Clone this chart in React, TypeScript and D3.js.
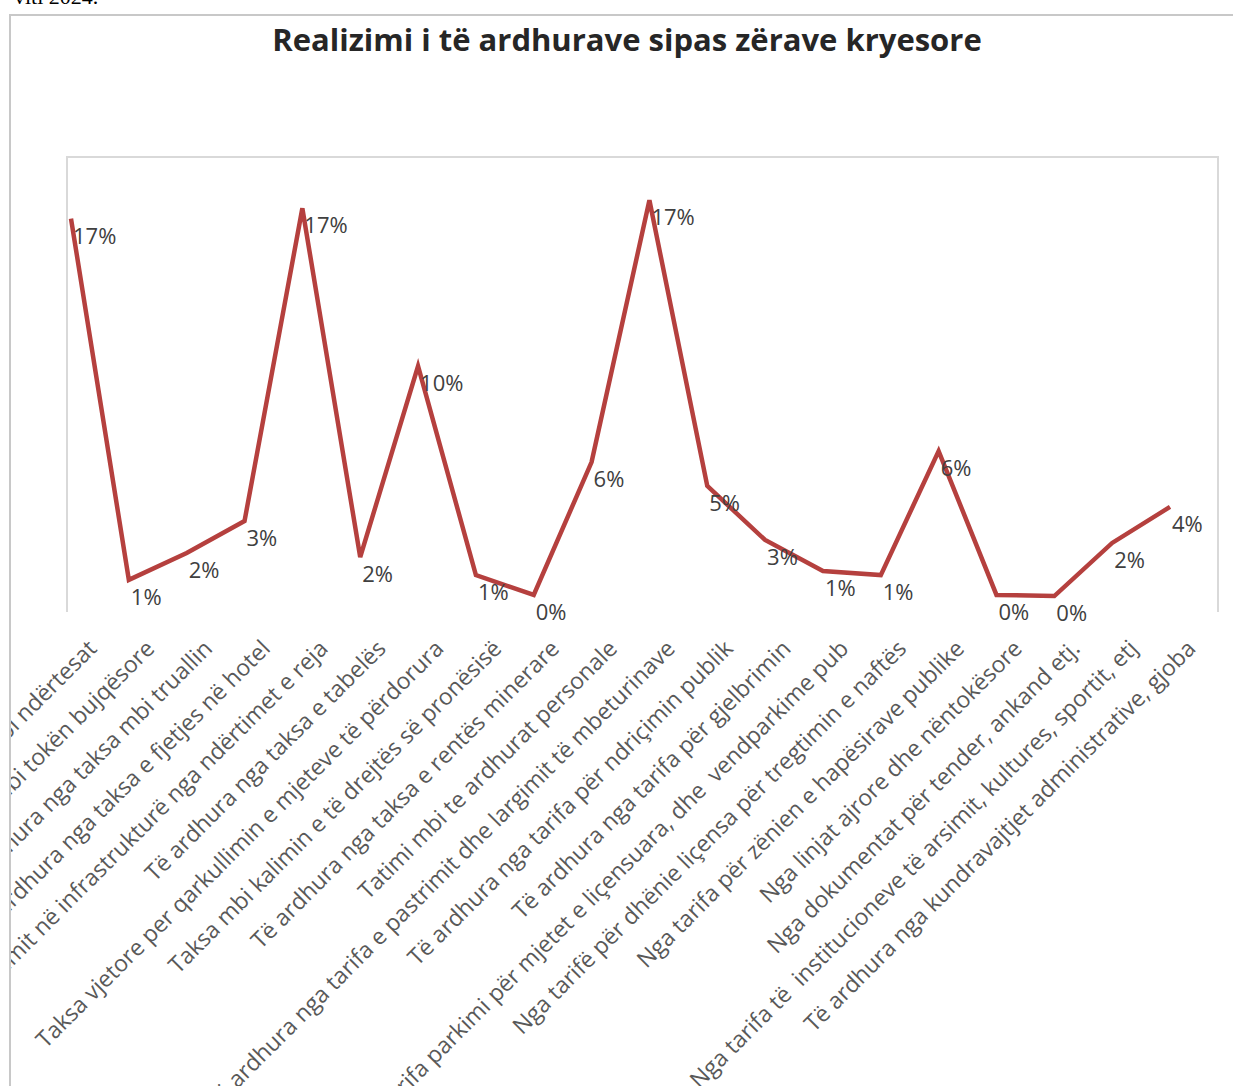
import * as d3 from "d3";
import { useEffect, useRef } from "react";

const categories = [
  "Tatimi mbi ndërtesat",
  "Taksa mbi tokën bujqësore",
  "Të ardhura nga taksa mbi truallin",
  "Të ardhura nga taksa e fjetjes në hotel",
  "Taksa e ndikimit në infrastrukturë nga ndërtimet e reja",
  "Të ardhura nga taksa e tabelës",
  "Taksa vjetore per qarkullimin e mjeteve të përdorura",
  "Taksa mbi kalimin e të drejtës së pronësisë",
  "Të ardhura nga taksa e rentës minerare",
  "Tatimi mbi te ardhurat personale",
  "Të ardhura nga tarifa e pastrimit dhe largimit të mbeturinave",
  "Të ardhura nga tarifa për ndriçimin publik",
  "Të ardhura nga tarifa për gjelbrimin",
  "Nga tarifa parkimi për mjetet e liçensuara, dhe  vendparkime pub",
  "Nga tarifë për dhënie liçensa për tregtimin e naftës",
  "Nga tarifa për zënien e hapësirave publike",
  "Nga linjat ajrore dhe nëntokësore",
  "Nga dokumentat për tender, ankand etj.",
  "Nga tarifa të  institucioneve të arsimit, kultures, sportit, etj",
  "Të ardhura nga kundravajtjet administrative, gjoba",
];

// share of total revenue
const shares = [
  0.166, 0.0075, 0.0193, 0.0333, 0.1705, 0.0175, 0.1013, 0.0096, 0.0009, 0.0592,
  0.174, 0.0487, 0.025, 0.0114, 0.0096, 0.064, 0.0009, 0.0004, 0.0237, 0.0395,
];

const title = "Realizimi i të ardhurave sipas zërave kryesore";
const FONT = "'Open Sans', sans-serif";

export default function App() {
  const ref = useRef<SVGSVGElement | null>(null);
  const width = 1233;
  const height = 1086;

  useEffect(() => {
    const svg = d3.select(ref.current);
    svg.selectAll("*").remove();

    // chart area clip: the frame cuts the long axis labels on the left
    svg
      .append("defs")
      .append("clipPath")
      .attr("id", "chartArea")
      .append("rect")
      .attr("x", 11)
      .attr("y", 16)
      .attr("width", width - 11)
      .attr("height", height - 16);

    // cut off text of the page above the chart
    svg
      .append("text")
      .attr("x", 14)
      .attr("y", 4)
      .attr("font-family", "'Liberation Serif', serif")
      .attr("font-size", 22)
      .attr("fill", "#000")
      .text("viti 2024.");

    // outer chart frame
    svg
      .append("path")
      .attr("d", `M10,${height} V15 H${width}`)
      .attr("fill", "none")
      .attr("stroke", "#c8c8c8")
      .attr("stroke-width", 2);

    svg
      .append("text")
      .attr("x", 627)
      .attr("y", 51)
      .attr("text-anchor", "middle")
      .attr("font-family", FONT)
      .attr("font-size", 31)
      .attr("font-weight", 700)
      .attr("fill", "#262626")
      .text(title);

    // plot area frame (no bottom edge)
    svg
      .append("path")
      .attr("d", "M67,612 V157 H1218 V612")
      .attr("fill", "none")
      .attr("stroke", "#d9d9d9")
      .attr("stroke-width", 2);

    const x = d3.scalePoint<string>().domain(categories).range([71, 1170]);
    const y = d3.scaleLinear().domain([0, 0.2]).range([597, 141]);

    const line = d3
      .line<number>()
      .x((_, i) => x(categories[i]) ?? 0)
      .y((d) => y(d));

    svg
      .append("path")
      .datum(shares)
      .attr("d", line)
      .attr("fill", "none")
      .attr("stroke", "#b5403e")
      .attr("stroke-width", 4.5)
      .attr("stroke-linejoin", "miter");

    svg
      .append("g")
      .selectAll("text")
      .data(shares)
      .join("text")
      .attr("x", (_, i) => (x(categories[i]) ?? 0) + 2)
      .attr("y", (d) => y(d) + 25)
      .attr("font-family", FONT)
      .attr("font-size", 22)
      .attr("fill", "#404040")
      .text((d) => d3.format(".0%")(d));

    svg
      .append("g")
      .attr("clip-path", "url(#chartArea)")
      .selectAll("text")
      .data(categories)
      .join("text")
      .attr(
        "transform",
        (d) => `translate(${(x(d) ?? 0) + 27},650) rotate(-45)`
      )
      .attr("text-anchor", "end")
      .attr("font-family", FONT)
      .attr("font-size", 23)
      .attr("fill", "#595959")
      .style("white-space", "pre")
      .text((d) => d);
  }, []);

  return (
    <svg
      ref={ref}
      width={width}
      height={height}
      style={{ position: "absolute", left: 0, top: 0, background: "#fff" }}
    ></svg>
  );
}
